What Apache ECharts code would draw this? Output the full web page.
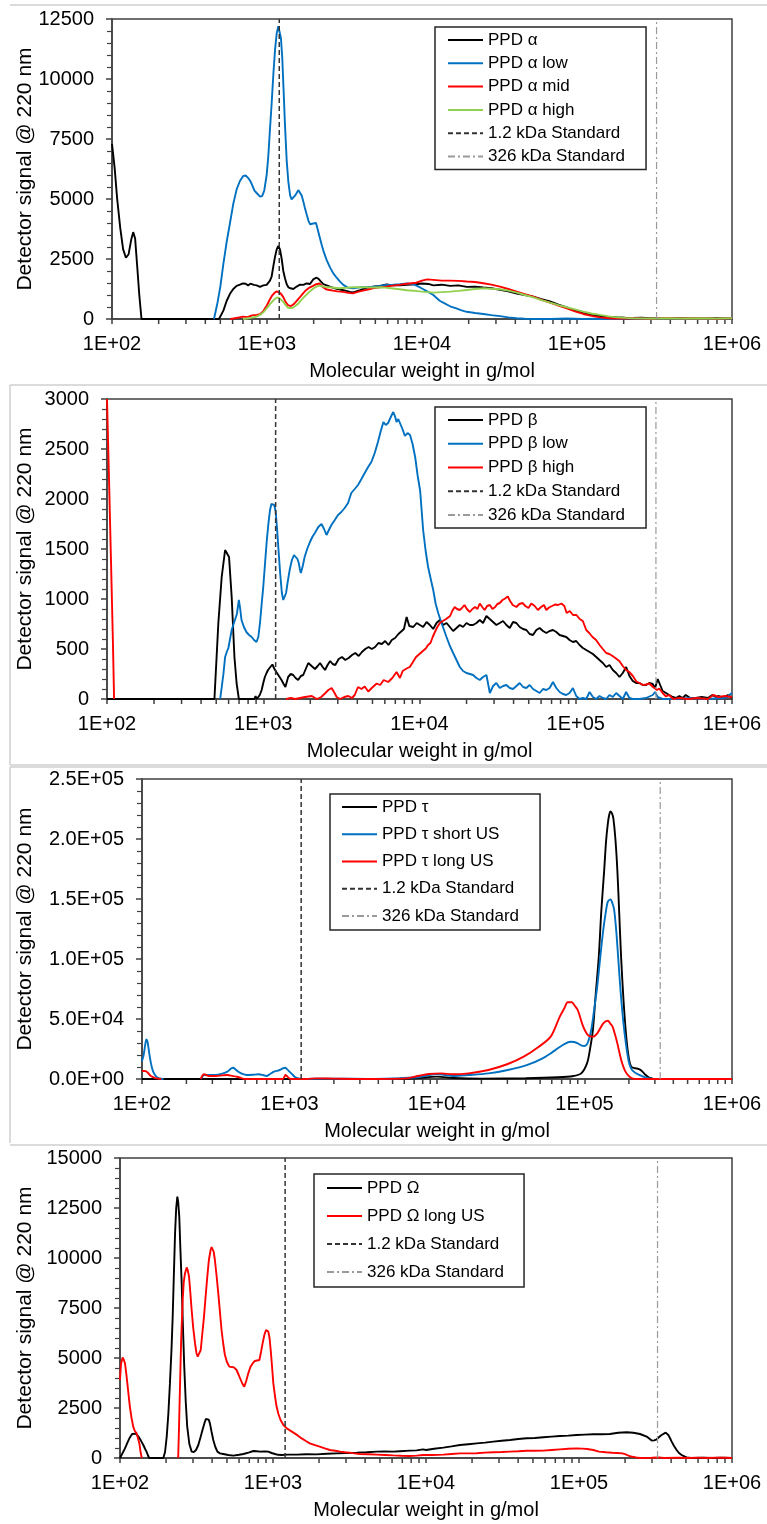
<!DOCTYPE html>
<html><head><meta charset="utf-8">
<script src="https://cdn.jsdelivr.net/npm/echarts@6/dist/echarts.min.js"></script>
<style>html,body{margin:0;padding:0;background:#fff}#c{width:767px;height:1524px}</style>
</head><body><div id="c"></div>
<script>
// ---------- Panel 1 : PPD alpha  [molecular weight g/mol, detector signal] ----------
const alpha = [[100,7300],[104,6300],[108,5000],[113,3800],[118,2900],[123,2550],[128,2700],[133,3300],[137,3620],[141,3350],[145,2300],[150,1000],[155,0],[300,0],[490,0],[502,30],[523,350],[549,750],[577,1050],[606,1250],[637,1380],[669,1430],[700,1480],[728,1470],[755,1400],[780,1470],[800,1500],[824,1420],[858,1400],[901,1340],[947,1400],[995,1420],[1045,1600],[1072,1780],[1099,2200],[1127,2600],[1155,2900],[1183,3050],[1213,2900],[1244,2500],[1274,2000],[1306,1700],[1340,1450],[1374,1320],[1420,1280],[1479,1250],[1553,1350],[1633,1430],[1715,1420],[1803,1480],[1893,1460],[1990,1650],[2071,1720],[2143,1680],[2230,1560],[2309,1450],[2427,1400],[2549,1350],[2679,1300],[2814,1260],[2957,1230],[3107,1200],[3430,1130],[3605,1110],[3981,1200],[4396,1300],[4855,1350],[5360,1380],[5916,1440],[6530,1400],[7210,1400],[8000,1420],[9000,1450],[10000,1480],[11000,1460],[11830,1400],[13400,1430],[15170,1380],[17200,1400],[19420,1340],[22000,1350],[24880,1310],[28000,1280],[31860,1220],[36000,1150],[40810,1060],[46000,1000],[52270,930],[59000,830],[66950,730],[76000,600],[85750,480],[97000,350],[109800,240],[124000,170],[140700,120],[160000,90],[180200,70],[205000,50],[230800,40],[260000,50],[295700,30],[335000,40],[378800,20],[430000,40],[485100,30],[550000,20],[621400,40],[700000,20],[796000,40],[890000,20],[1000000,40]];
const alphaLow = [[455,0],[480,700],[500,1350],[523,2300],[549,3200],[577,4000],[606,4800],[637,5400],[669,5750],[700,5950],[728,5980],[755,5880],[780,5750],[800,5600],[830,5350],[858,5250],[901,5100],[930,5120],[960,5350],[995,6000],[1020,6800],[1045,7900],[1072,9000],[1099,10200],[1127,11220],[1155,11900],[1183,12200],[1208,12250],[1230,11700],[1254,10900],[1280,9500],[1306,8100],[1340,6600],[1374,5700],[1410,5150],[1442,4980],[1479,5000],[1520,5150],[1553,5250],[1592,5370],[1633,5330],[1674,5150],[1715,4900],[1760,4600],[1803,4350],[1850,4100],[1893,3950],[1950,3900],[1990,3980],[2030,4050],[2071,4000],[2120,3750],[2180,3450],[2250,3100],[2309,2850],[2367,2650],[2427,2450],[2549,2150],[2679,1900],[2814,1720],[2957,1560],[3107,1420],[3300,1320],[3430,1290],[3605,1280],[3981,1320],[4396,1320],[4855,1350],[5360,1380],[5916,1420],[6530,1430],[7210,1450],[8000,1480],[8790,1450],[9500,1350],[10000,1270],[10800,1150],[11830,1000],[13000,760],[14000,650],[15170,530],[16660,440],[18000,360],[19420,300],[22000,250],[24880,210],[28000,160],[31860,120],[36000,70],[40810,30],[46000,10],[52270,0],[66950,0],[85750,20],[109800,0],[140700,10],[180200,0],[230800,20],[295700,0],[378800,30],[485100,0],[621400,20],[796000,0],[1000000,30]];
const alphaMid = [[580,0],[606,20],[650,60],[700,100],[750,80],[800,150],[858,170],[901,200],[947,330],[995,550],[1037,780],[1072,950],[1114,1080],[1155,1150],[1186,1170],[1220,1080],[1271,920],[1320,700],[1364,580],[1429,540],[1490,620],[1540,720],[1600,850],[1657,960],[1715,1080],[1785,1200],[1880,1310],[1982,1380],[2080,1450],[2180,1480],[2290,1330],[2400,1240],[2530,1210],[2665,1180],[2850,1150],[3090,1130],[3350,1090],[3580,1070],[3850,1130],[4150,1180],[4480,1230],[4810,1280],[5300,1320],[5860,1350],[6500,1390],[7140,1420],[8000,1470],[9180,1510],[10000,1600],[10800,1650],[11830,1630],[13400,1600],[15170,1600],[17200,1590],[19420,1560],[22000,1540],[24880,1490],[28000,1430],[31860,1350],[36000,1250],[40810,1140],[46000,1040],[52270,930],[59000,800],[66950,680],[76000,560],[85750,440],[97000,320],[109800,210],[124000,130],[140700,70],[160000,30],[180200,20],[230800,30],[295700,10],[378800,40],[485100,20],[621400,30],[796000,10],[1000000,30]];
const alphaHigh = [[700,0],[740,20],[800,60],[858,100],[901,170],[947,280],[995,440],[1045,620],[1092,760],[1140,870],[1179,900],[1220,830],[1271,720],[1320,580],[1364,470],[1420,460],[1465,470],[1520,540],[1580,620],[1640,740],[1700,860],[1790,1000],[1880,1140],[2000,1280],[2100,1360],[2180,1390],[2350,1340],[2530,1320],[2720,1300],[2920,1280],[3250,1300],[3580,1320],[4000,1330],[4350,1320],[4900,1310],[5570,1320],[6300,1280],[7140,1240],[8000,1200],[8740,1180],[10000,1140],[11830,1100],[13400,1120],[15170,1140],[17200,1170],[19420,1210],[22000,1250],[24880,1280],[28000,1260],[31860,1240],[36000,1180],[40810,1100],[46000,1000],[52270,900],[59000,790],[66950,680],[76000,580],[85750,490],[97000,400],[109800,310],[124000,230],[140700,170],[160000,110],[180200,70],[205000,45],[230800,30],[295700,20],[378800,30],[485100,20],[621400,30],[796000,20],[1000000,30]];

// ---------- Panel 2 : PPD beta ----------
const beta = [[100,0],[487,0],[516,760],[542,1220],[570,1490],[585,1500],[604,1420],[628,1020],[654,420],[675,160],[698,0],[877,0],[893,30],[910,0],[950,40],[977,90],[1000,160],[1024,220],[1050,260],[1073,290],[1110,320],[1144,345],[1180,300],[1213,270],[1260,230],[1309,190],[1350,150],[1386,120],[1443,220],[1500,250],[1554,240],[1610,210],[1671,190],[1740,230],[1802,240],[1870,300],[1942,360],[2040,330],[2144,300],[2230,330],[2310,360],[2400,320],[2486,290],[2580,340],[2680,380],[2780,350],[2890,340],[3040,400],[3190,420],[3350,390],[3520,410],[3700,440],[3880,460],[4080,430],[4280,470],[4500,500],[4720,520],[4950,500],[5200,520],[5460,560],[5740,550],[6030,580],[6330,540],[6650,590],[6980,610],[7330,650],[7700,680],[7950,700],[8270,820],[8600,730],[9120,720],[9600,760],[10060,740],[10550,720],[11100,770],[11650,740],[12240,700],[12850,760],[13500,790],[14200,740],[14890,760],[15650,720],[16420,680],[17250,710],[18110,740],[19000,720],[19980,760],[21000,740],[22040,740],[23150,760],[24310,790],[25500,760],[26810,830],[28150,800],[29570,770],[31050,740],[32620,760],[34250,780],[35980,740],[37800,710],[39690,770],[41700,760],[43780,720],[46000,700],[48280,690],[50700,650],[53260,640],[55950,690],[58750,710],[61700,680],[64800,660],[68050,680],[71470,690],[75050,670],[78830,640],[82800,630],[86950,620],[91300,590],[95900,570],[100700,580],[105800,540],[111100,510],[116700,490],[122600,470],[128700,450],[135200,420],[141900,390],[149100,360],[156600,320],[164400,340],[172700,290],[181400,260],[190500,220],[200000,260],[210100,320],[220600,230],[231700,180],[243400,160],[255600,160],[268400,140],[281900,140],[296000,160],[310900,150],[322000,110],[334600,200],[347000,140],[359800,80],[378000,60],[396800,40],[417000,20],[437700,10],[460000,30],[483000,10],[506000,40],[540000,10],[585000,10],[640000,20],[700000,10],[748000,40],[790000,20],[825000,30],[880000,10],[940000,40],[1000000,10]];
const betaLow = [[530,0],[542,20],[556,250],[570,420],[584,470],[598,510],[613,600],[628,690],[643,740],[659,760],[678,850],[698,990],[712,900],[726,790],[752,720],[780,670],[811,640],[843,620],[873,590],[905,570],[930,620],[953,760],[977,950],[1000,1120],[1027,1360],[1054,1590],[1080,1760],[1105,1890],[1128,1950],[1150,1970],[1175,1940],[1200,1880],[1226,1700],[1252,1490],[1284,1250],[1316,1060],[1343,990],[1370,980],[1400,1060],[1430,1160],[1480,1300],[1526,1390],[1573,1440],[1620,1450],[1655,1400],[1688,1360],[1715,1300],[1740,1260],[1790,1330],[1840,1420],[1910,1500],[1990,1570],[2060,1620],[2140,1660],[2250,1720],[2360,1750],[2450,1700],[2540,1640],[2630,1690],[2730,1740],[2870,1790],[3010,1840],[3160,1870],[3320,1910],[3490,1960],[3660,2060],[3850,2100],[4040,2140],[4250,2200],[4460,2260],[4690,2320],[4920,2370],[5170,2460],[5420,2570],[5650,2680],[5880,2770],[6080,2740],[6300,2760],[6550,2820],[6790,2870],[6960,2830],[7130,2770],[7310,2800],[7490,2790],[7780,2700],[8070,2630],[8380,2660],[8700,2640],[9030,2550],[9380,2420],[9740,2230],[10100,2080],[10550,1690],[10950,1480],[11350,1320],[11800,1200],[12240,1090],[12700,950],[13170,860],[13840,760],[14890,620],[15650,530],[16420,460],[17250,390],[18110,320],[19000,280],[19980,260],[21000,250],[22040,240],[23150,210],[24310,190],[25500,220],[26810,240],[28200,60],[29570,130],[31050,160],[32620,110],[34250,130],[35980,140],[37800,110],[39690,100],[41700,130],[43780,160],[46000,120],[48280,110],[50700,140],[53260,100],[55950,80],[58750,60],[61700,100],[64800,90],[68050,110],[71470,170],[75050,110],[78830,70],[82800,50],[86950,40],[91300,60],[95900,110],[100700,30],[105800,0],[111100,10],[116700,0],[122600,70],[128700,20],[135200,0],[141900,30],[149100,10],[156600,0],[164400,40],[172700,20],[181400,60],[190500,30],[200000,0],[210100,70],[220600,10],[231700,0],[255600,0],[281900,10],[310900,40],[322000,70],[334600,20],[359800,0],[437700,0],[540000,10],[700000,0],[880000,10],[940000,20],[980000,50],[1000000,60]];
const betaHigh = [[100,3000],[103,2200],[106,1400],[109,600],[111,0],[300,'-'],[1400,0],[1500,10],[1600,0],[1850,20],[2045,30],[2200,0],[2350,20],[2500,60],[2610,90],[2740,110],[2860,60],[2950,20],[3100,0],[3300,20],[3500,30],[3700,10],[3850,40],[4040,120],[4250,100],[4460,125],[4700,75],[4950,110],[5320,155],[5600,140],[5900,190],[6300,170],[6700,210],[7130,270],[7500,210],[7800,280],[8270,305],[8660,320],[9000,360],[9500,420],[10000,450],[10500,480],[10970,505],[11350,540],[11750,560],[12150,620],[12550,670],[13000,720],[13500,760],[14100,780],[14800,800],[15700,830],[16200,880],[16800,920],[17400,900],[18100,890],[18700,910],[19400,940],[20100,900],[21000,870],[21800,900],[22700,920],[23500,900],[24310,955],[25200,920],[26100,890],[27100,930],[28200,940],[29300,900],[30500,920],[31500,950],[32620,960],[34000,990],[35300,1005],[36700,1025],[38000,980],[39500,940],[41700,920],[43500,950],[45600,960],[47600,930],[49800,910],[52000,955],[54600,930],[57200,890],[60000,920],[62600,940],[64800,890],[67500,915],[70500,930],[73600,945],[77000,940],[81000,955],[84500,930],[87500,860],[91500,880],[96000,840],[101000,840],[106000,800],[111000,780],[116700,690],[122000,660],[128000,620],[135000,590],[142000,540],[149000,500],[156600,460],[164000,450],[172000,430],[181000,405],[190000,380],[200000,330],[210000,290],[220000,270],[232000,230],[244000,175],[256000,160],[269000,140],[282000,145],[296000,155],[312000,120],[331000,90],[342000,105],[360000,60],[378000,25],[396000,40],[420000,0],[460000,10],[520000,0],[600000,10],[700000,0],[760000,40],[820000,20],[900000,30],[1000000,20]];

// ---------- Panel 3 : PPD tau ----------
const tau = [[100,0],[500,0],[3000,0],[7000,500],[10000,2000],[13000,800],[20000,300],[40000,600],[66000,1400],[84000,2500],[95000,4700],[104000,13000],[109000,25000],[114000,41000],[119000,70000],[125000,102000],[130000,140000],[136000,174000],[140000,198000],[144000,213000],[147000,220000],[150000,223000],[154000,221000],[157000,217000],[162000,200000],[167000,174000],[172000,138000],[177000,102000],[184000,65000],[192000,35000],[200000,17000],[207000,10300],[215000,9300],[223000,8900],[232000,8500],[240000,7500],[250000,5500],[260000,3300],[272000,1500],[284000,600],[300000,0],[1000000,0]];
const tauShort = [[100,15000],[102.6,20000],[105,28000],[107,33000],[109,31000],[112,21400],[115,13000],[119,6100],[125,2000],[131,560],[140,0],[180,'-'],[250,0],[255,1500],[263,3300],[290,3300],[316,3300],[350,4500],[379,6100],[400,8500],[415,9400],[430,8000],[450,6100],[480,4200],[513,3300],[560,3500],[615,3900],[660,3300],[696,2500],[740,4200],[784,6100],[820,6800],[860,7500],[900,8800],[932,9400],[965,8000],[1000,6100],[1050,3500],[1096,1400],[1150,400],[1200,0],[2000,300],[3430,0],[5000,400],[7430,1400],[9000,3500],[10000,4200],[11300,3300],[12800,2500],[16400,3300],[22300,4700],[30200,7500],[41000,11700],[52000,17200],[60000,22000],[66000,25600],[73000,29000],[80000,31000],[85000,30800],[90000,29700],[95000,28000],[100000,27500],[105000,30000],[111000,40800],[116000,57000],[122000,77000],[128000,102000],[134000,124000],[139000,138000],[144000,147800],[150000,149700],[155000,146000],[159000,140800],[164000,124000],[169000,102000],[174000,80000],[180000,57500],[187000,38000],[195000,21400],[202000,12000],[210000,7500],[222000,5000],[237000,3300],[255000,1500],[276000,560],[300000,0],[420000,0]];
const tauLong = [[100,6500],[102.6,6700],[106,6500],[110,5000],[115,2500],[123,800],[135,0],[180,'-'],[250,0],[256,2500],[263,3900],[285,2500],[316,2500],[350,3000],[379,3300],[410,2600],[440,1900],[470,800],[498,0],[900,0],[925,2000],[940,3300],[960,2500],[990,800],[1020,0],[1300,0],[1530,560],[2000,300],[3000,0],[6200,560],[7430,2500],[8800,4200],[10700,4700],[12800,3900],[16400,4700],[22300,7500],[30200,12500],[38700,18600],[49000,26900],[59000,35300],[68000,52000],[73000,59000],[77000,63900],[82000,63900],[86000,61000],[90000,57500],[98000,43600],[104000,37500],[108000,35800],[114000,35300],[122000,38000],[134000,46400],[144000,48600],[150000,46000],[155000,43600],[161000,37000],[167000,29700],[174000,20000],[180000,13100],[188000,7000],[197000,3300],[210000,560],[230000,0],[1000000,0]];

// ---------- Panel 4 : PPD Omega ----------
const omega = [[100,0],[104,250],[107.8,480],[112,780],[116,1030],[120,1200],[123,1270],[127,1220],[132,1070],[137,870],[142,650],[146,450],[149,320],[152,150],[155,0],[192,0],[197,300],[202,1070],[207,2200],[212,3730],[217,5400],[221,7070],[225,9200],[229,11230],[233,12500],[237,13070],[240,12800],[244,12070],[248,10500],[253,8730],[258,6500],[263,4570],[269,2800],[275,1570],[284,700],[294,320],[304,300],[314,400],[325,650],[337,1070],[346,1400],[356,1730],[364,1950],[372,2030],[380,1920],[387,1730],[397,1300],[407,900],[420,550],[433,320],[450,230],[473,200],[510,150],[550,120],[600,160],[641,200],[700,280],[744,350],[780,340],[822,320],[880,330],[930,320],[980,250],[1030,200],[1080,160],[1140,150],[1250,170],[1430,170],[1650,190],[1920,180],[2250,210],[2600,230],[3000,250],[3530,270],[4100,290],[4760,320],[5400,330],[6110,320],[6760,340],[7840,370],[8690,380],[9570,430],[10000,400],[11300,460],[12970,520],[14700,580],[16670,650],[18900,690],[21420,730],[24300,770],[27520,820],[31200,860],[35370,900],[40100,950],[45440,985],[51500,1000],[58400,1035],[66200,1070],[75100,1100],[85100,1120],[96500,1150],[109000,1170],[124000,1185],[141000,1190],[159500,1200],[180000,1260],[205000,1285],[226600,1265],[250500,1200],[276900,1070],[298600,870],[310000,880],[322000,935],[334000,1050],[346700,1150],[357000,1230],[368500,1270],[383500,1150],[393000,1000],[403300,820],[418000,600],[434600,400],[450000,250],[468600,150],[485000,90],[505300,33],[530000,10],[558500,0],[650000,10],[750000,0],[850000,20],[1000000,0]];
const omegaLong = [[100,3900],[101.5,4700],[104,5030],[106,4900],[107.8,4730],[110,4200],[111.7,3730],[114,3100],[116,2570],[119,2000],[122,1570],[125,1350],[128.5,1230],[131,1000],[133.8,730],[136,350],[138.6,0],[180,'-'],[240,0],[243,1500],[246.9,3730],[251,5900],[256.9,7900],[261,8800],[265.9,9230],[272.7,9530],[277,9400],[282.6,9070],[288,8300],[294,7400],[301,6500],[309.4,5730],[316,5250],[322,5070],[329,5150],[337,5400],[345,6200],[354,7070],[363,8100],[372,9070],[381,9900],[391,10400],[397,10550],[403,10570],[410,10300],[417,9900],[428,9100],[439,8230],[450,7300],[461,6400],[473,5700],[485,5150],[500,4800],[518,4570],[538,4550],[556,4530],[567,4500],[578,4400],[597,4150],[616,3900],[632,3700],[649,3570],[668,3850],[689,4230],[712,4550],[736,4730],[760,4850],[781,4870],[815,4900],[835,5300],[855,5730],[878,6150],[900,6400],[916,6420],[932,6320],[949,6000],[966,5400],[985,4600],[1005,3730],[1030,3100],[1055,2570],[1085,2200],[1120,1900],[1170,1650],[1230,1480],[1290,1380],[1360,1270],[1450,1130],[1540,980],[1640,850],[1740,730],[1880,640],[2020,570],[2180,480],[2350,400],[2550,360],[2750,320],[2950,290],[3170,270],[3400,230],[3700,200],[4200,190],[4760,170],[5400,150],[6110,130],[6900,115],[7840,100],[8690,120],[9570,150],[11000,150],[12970,170],[14700,200],[16670,230],[19000,230],[21420,240],[24300,270],[27520,290],[31200,300],[35370,320],[40100,340],[45440,365],[51500,360],[58400,370],[66200,400],[75100,430],[85100,460],[96500,480],[105000,470],[113000,450],[124000,400],[135000,320],[150000,290],[165000,265],[178000,250],[192000,230],[202000,180],[213000,100],[224000,60],[236000,30],[250000,0],[300000,10],[330000,30],[360000,0],[450000,20],[520000,0],[600000,20],[700000,0],[800000,20],[900000,10],[1000000,0]];

// ---------- axes / standards ----------
const xMin = 100, xMax = 1000000;
const yMaxes = [12500, 3000, 250000, 15000];
const yIntervals = [2500, 500, 50000, 2500];
const std12 = 1200, std326 = 326000;
const minorLogTicks = [];
for (let d = 100; d < 1000000; d *= 10) for (let k = 2; k <= 9; k++) minorLogTicks.push(k * d);

const panelSeries = [
  [['PPD α', alpha, '#000000'], ['PPD α low', alphaLow, '#0070C0'], ['PPD α mid', alphaMid, '#FF0000'], ['PPD α high', alphaHigh, '#92D050']],
  [['PPD β', beta, '#000000'], ['PPD β low', betaLow, '#0070C0'], ['PPD β high', betaHigh, '#FF0000']],
  [['PPD τ', tau, '#000000'], ['PPD τ short US', tauShort, '#0070C0'], ['PPD τ long US', tauLong, '#FF0000']],
  [['PPD Ω', omega, '#000000'], ['PPD Ω long US', omegaLong, '#FF0000']]
];

// layout (pixels)
const grids = [
  {left: 112, top: 19, width: 620, height: 300},
  {left: 107, top: 399, width: 625, height: 300},
  {left: 142, top: 779, width: 590, height: 300},
  {left: 120, top: 1158, width: 612, height: 300}
];
const yNameGaps = [76, 71, 106, 84];
const legendPos = [
  {left: 435, top: 27, padding: [3, 21, 3, 12], itemGap: 3.3},
  {left: 435, top: 407, padding: [3, 21, 3, 12], itemGap: 3.75},
  {left: 330, top: 794, padding: [3, 21, 4, 11], itemGap: 7.25},
  {left: 314, top: 1174, padding: [4, 20, 5, 12], itemGap: 8}
];

const FONT = "'Liberation Sans', Arial, Helvetica, sans-serif";
const AX = '#404040';

function expFmt(v) {
  if (v === 0) return '0.0E+00';
  const e = Math.floor(Math.log10(v) + 1e-9);
  const m = v / Math.pow(10, e);
  return m.toFixed(1) + 'E+' + (e < 10 ? '0' : '') + e;
}

const hl = (x1, y1, x2, y2) => ({type: 'line', silent: true, shape: {x1, y1, x2, y2}, style: {stroke: '#cfcfcf', lineWidth: 1.5}});

const option = {
  animation: false,
  backgroundColor: '#ffffff',
  textStyle: {fontFamily: FONT},
  grid: [], xAxis: [], yAxis: [], legend: [], series: [],
  graphic: [hl(10, 5, 767, 5), hl(10, 385, 767, 385), hl(10, 385, 10, 765), hl(10, 765, 767, 765),
            hl(10, 767, 767, 767), hl(10, 767, 10, 1143), hl(10, 1145, 767, 1145)]
};

for (let i = 0; i < 4; i++) {
  const g = grids[i];
  option.grid.push(Object.assign({show: true, borderColor: AX, borderWidth: 1.5, backgroundColor: 'transparent'}, g));
  option.xAxis.push({
    type: 'log', logBase: 10, min: xMin, max: xMax, splitNumber: 4, gridIndex: i,
    name: 'Molecular weight in g/mol', nameLocation: 'middle', nameGap: 42, nameMoveOverlap: false,
    nameTextStyle: {fontSize: 20, color: '#000', fontFamily: FONT},
    axisLine: {lineStyle: {color: AX, width: 1.5}},
    axisTick: {show: true, length: 5, lineStyle: {color: AX, width: 1.5}},
    axisLabel: {fontSize: 20, color: '#000', margin: 15, fontFamily: FONT,
      formatter: v => { const e = Math.round(Math.log10(v)); return '1E+' + (e < 10 ? '0' : '') + e; }},
    splitLine: {show: false}
  });
  option.yAxis.push({
    type: 'value', min: 0, max: yMaxes[i], interval: yIntervals[i], gridIndex: i,
    name: 'Detector signal @ 220 nm', nameLocation: 'middle', nameGap: yNameGaps[i], nameMoveOverlap: false,
    nameTextStyle: {fontSize: 21, color: '#000', fontFamily: FONT},
    axisLine: {show: true, lineStyle: {color: AX, width: 1.5}},
    axisTick: {show: true, length: 6, lineStyle: {color: AX, width: 1.5}},
    minorTick: {show: true, splitNumber: 5, length: 5, lineStyle: {color: AX, width: 1.2}},
    axisLabel: {fontSize: 20, color: '#000', margin: 18, fontFamily: FONT,
      formatter: i === 2 ? expFmt : (v => String(v))},
    splitLine: {show: false}
  });
  const names = [];
  panelSeries[i].forEach(([name, data, color]) => {
    names.push(name);
    option.series.push({
      type: 'line', name, data, xAxisIndex: i, yAxisIndex: i,
      symbol: 'none', showSymbol: false, smooth: i === 2 ? 0.3 : false, connectNulls: false,
      lineStyle: {color, width: 1.9}, itemStyle: {color}, z: 3
    });
  });
  names.push('1.2 kDa Standard', '326 kDa Standard');
  option.series.push({
    type: 'line', name: '1.2 kDa Standard', data: [[std12, 0], [std12, yMaxes[i]]],
    xAxisIndex: i, yAxisIndex: i, symbol: 'none',
    lineStyle: {color: '#333333', width: 1.5, type: [5, 3]}, itemStyle: {color: '#333333'}, z: 4
  });
  option.series.push({
    type: 'line', name: '326 kDa Standard', data: [[std326, 0], [std326, yMaxes[i]]],
    xAxisIndex: i, yAxisIndex: i, symbol: 'none',
    lineStyle: {color: '#9a9a9a', width: 1.2, type: [7, 3, 2, 3]}, itemStyle: {color: '#9a9a9a'}, z: 4
  });
  // log-axis minor ticks (2..9 × 10^n)
  option.series.push({
    type: 'custom', xAxisIndex: i, yAxisIndex: i, silent: true, clip: false,
    data: minorLogTicks.map(v => [v, 0]),
    renderItem: (params, api) => {
      const p = api.coord([api.value(0), 0]);
      return {type: 'line', shape: {x1: p[0], y1: p[1], x2: p[0], y2: p[1] + 5},
        style: {stroke: AX, lineWidth: 1.5}};
    }, z: 2
  });
  const lp = legendPos[i];
  option.legend.push({
    data: names, orient: 'vertical', left: lp.left, top: lp.top, padding: lp.padding,
    itemGap: lp.itemGap, itemWidth: 35, itemHeight: 14, selectedMode: false,
    itemStyle: {opacity: 0},
    borderColor: '#262626', borderWidth: 1.5, backgroundColor: '#ffffff',
    textStyle: {fontSize: 17, color: '#000', fontFamily: FONT, lineHeight: 20}
  });
}

const chart = echarts.init(document.getElementById('c'), null, {renderer: 'canvas', width: 767, height: 1524});
chart.setOption(option);
</script></body></html>
